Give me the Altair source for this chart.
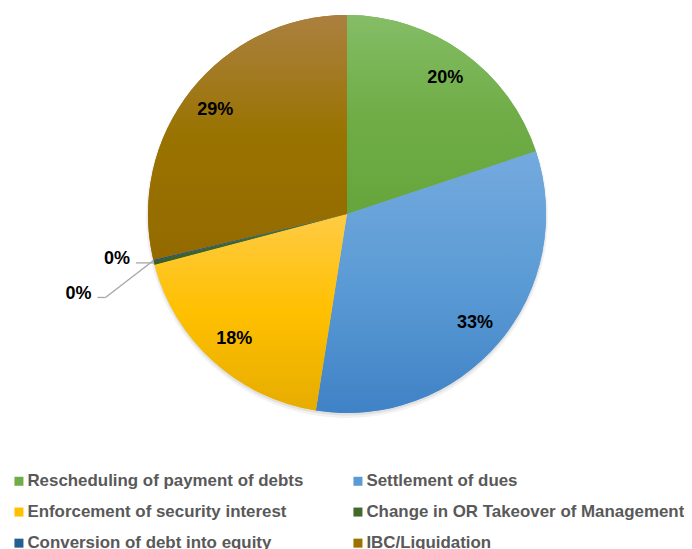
import math
import altair as alt
import pandas as pd

# ---------------- data ----------------
categories = [
    "Rescheduling of payment of debts",
    "Settlement of dues",
    "Enforcement of security interest",
    "Change in OR Takeover of Management",
    "Conversion of debt into equity",
    "IBC/Liquidation",
]
shares = [19.9, 32.6, 18.4, 0.3, 0.1, 28.7]

# ---------------- style ----------------
colors = ["#70AD47", "#5B9BD5", "#FFC000", "#43682B", "#255E91", "#997300"]
grad_top = ["#84BD66", "#74AADE", "#FFCB45", "#4D7535", "#2F6AA0", "#AB8040"]
grad_bot = ["#66A53C", "#3F82C6", "#E6AC00", "#3B5E25", "#1F5282", "#946A00"]
legend_order = [0, 2, 4, 1, 3, 5]  # column-major order for a 2-column legend
CX, CY, R = 339, 206, 199
LABEL_R = 168
FONT = "Liberation Sans"

# callout offsets for the tiny slices (relative to the slice edge point)
callouts = pd.DataFrame({
    "category": [categories[3], categories[4]],
    "elbow_dx": [-18, -48], "elbow_dy": [0, 37],
    "end_dx": [-18, -56], "end_dy": [0, 37],
    "text_dx": [-24, -62], "text_dy": [-4, 34],
})

df = pd.DataFrame({"category": categories, "share": shares, "order": list(range(len(categories)))})

theta_scale = alt.Scale(domain=[0, 1], range=[0, 2 * math.pi])

base = (
    alt.Chart(df)
    .transform_joinaggregate(total="sum(share)")
    .transform_calculate(frac="datum.share / datum.total")
    .transform_window(cum="sum(frac)", sort=[alt.SortField("order")], frame=[None, 0])
    .transform_calculate(start="datum.cum - datum.frac", mid="datum.cum - datum.frac / 2")
    .transform_calculate(label="format(datum.frac, '.0%')")
)

arc_enc = dict(
    theta=alt.Theta("start:Q", scale=theta_scale),
    theta2="cum:Q",
)

shadow1 = base.mark_arc(radius=R + 2, color="#000000", opacity=0.05).encode(
    x=alt.value(CX), y=alt.value(CY + 3), **arc_enc)
shadow2 = base.mark_arc(radius=R + 0.5, color="#000000", opacity=0.07).encode(
    x=alt.value(CX), y=alt.value(CY + 2), **arc_enc)

solid = base.mark_arc(radius=R).encode(
    x=alt.value(CX), y=alt.value(CY),
    color=alt.Color(
        "category:N",
        scale=alt.Scale(domain=[categories[i] for i in legend_order],
                        range=[colors[i] for i in legend_order]),
        legend=alt.Legend(
            title=None, orient="none", legendX=2.5, legendY=464.5, columns=2,
            symbolType="square", symbolSize=81, symbolStrokeWidth=0,
            labelFont=FONT, labelFontSize=16.9, labelFontWeight="bold",
            labelColor="#595959", rowPadding=13.1, columnPadding=46,
            labelOffset=0, labelLimit=500,
        ),
    ),
    **arc_enc,
)

grad_layers = []
for i, c in enumerate(categories):
    grad = alt.LinearGradient(
        gradient="linear",
        stops=[alt.GradientStop(color=grad_top[i], offset=0),
               alt.GradientStop(color=colors[i], offset=0.5),
               alt.GradientStop(color=grad_bot[i], offset=1)],
        x1=0, x2=0, y1=0, y2=1,
    )
    grad_layers.append(
        base.transform_filter(alt.datum.category == c)
        .mark_arc(radius=R, fill=grad)
        .encode(x=alt.value(CX), y=alt.value(CY), **arc_enc)
    )

labels = base.transform_filter("datum.frac >= 0.05").mark_text(
    font=FONT, fontSize=18, fontWeight="bold", color="black",
    align="center", baseline="middle", radius=LABEL_R,
).encode(
    x=alt.value(CX), y=alt.value(CY),
    theta=alt.Theta("mid:Q", scale=theta_scale),
    text="label:N",
)

small = (
    base.transform_lookup(
        lookup="category",
        from_=alt.LookupData(callouts, "category",
                             ["elbow_dx", "elbow_dy", "end_dx", "end_dy", "text_dx", "text_dy"]),
    )
    .transform_filter("isValid(datum.elbow_dx)")
    .transform_calculate(
        ex=f"{CX} + {R} * sin(2 * PI * datum.mid)",
        ey=f"{CY} - {R} * cos(2 * PI * datum.mid)",
    )
    .transform_calculate(
        bx="datum.ex + datum.elbow_dx", by="datum.ey + datum.elbow_dy",
        qx="datum.ex + datum.end_dx", qy="datum.ey + datum.end_dy",
        tx="datum.ex + datum.text_dx", ty="datum.ey + datum.text_dy",
    )
)

seg1 = small.mark_rule(color="#A6A6A6", strokeWidth=1.3).encode(
    x=alt.X("ex:Q", scale=None), y=alt.Y("ey:Q", scale=None),
    x2="bx:Q", y2="by:Q")
seg2 = small.mark_rule(color="#A6A6A6", strokeWidth=1.3).encode(
    x=alt.X("bx:Q", scale=None), y=alt.Y("by:Q", scale=None),
    x2="qx:Q", y2="qy:Q")
small_text = small.mark_text(
    font=FONT, fontSize=18, fontWeight="bold", color="black",
    align="right", baseline="middle",
).encode(
    x=alt.X("tx:Q", scale=None), y=alt.Y("ty:Q", scale=None), text="label:N")

chart = alt.layer(shadow1, shadow2, solid, *grad_layers, labels, seg1, seg2, small_text).properties(
    width=676, height=541, padding=0,
    autosize=alt.AutoSizeParams(type="none"),
).configure_view(stroke=None)

chart.save("out.html", embed_options={"renderer": "svg", "actions": False})
